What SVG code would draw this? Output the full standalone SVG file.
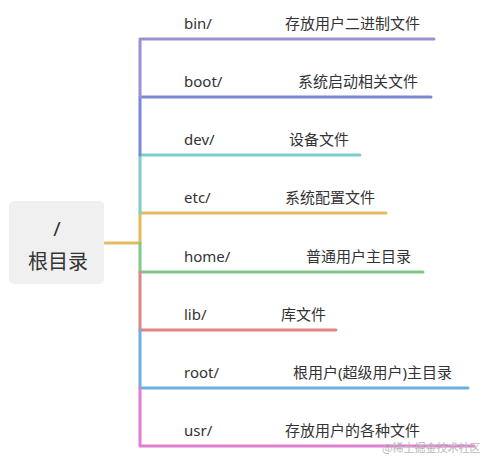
<svg xmlns="http://www.w3.org/2000/svg" width="486" height="466" viewBox="0 0 486 466">
<style>
.t{font-family:"Noto Sans","Noto Sans CJK SC",sans-serif;font-size:15px;fill:#333}
.r{font-family:"Noto Sans","Noto Sans CJK SC",sans-serif;font-size:20px;fill:#333;text-anchor:middle}
.c{fill:none;stroke-width:3;stroke-linecap:round;stroke-linejoin:round}
.wm{font-family:"Noto Sans CJK SC",sans-serif;font-size:11px;fill:#b8b8b8}
</style>
<rect width="486" height="466" fill="#fff"/>
<g id="connectors">
<path class="c" stroke="#e5bb5f" d="M105 243H140V213H386"/>
<path class="c" stroke="#7ecdc8" d="M140 213V155H360"/>
<path class="c" stroke="#7b88d4" d="M140 155V97H431"/>
<path class="c" stroke="#9b8fd6" d="M140 97V39H434"/>
<path class="c" stroke="#7dc88a" d="M140 243V272H423"/>
<path class="c" stroke="#e08585" d="M140 272V330H336"/>
<path class="c" stroke="#6db0e0" d="M140 330V388H468"/>
<path class="c" stroke="#e07fd0" d="M140 388V446H474"/>
</g>
<g id="root">
<rect x="9" y="201" width="95" height="83" rx="5" fill="#f0f0f0"/>
<text class="r" x="57" y="236">/</text>
<text class="r" x="58" y="269">根目录</text>
</g>
<g id="bin"><text class="t" x="184" y="29">bin/</text><text class="t" x="285" y="29">存放用户二进制文件</text></g>
<g id="boot"><text class="t" x="184" y="87">boot/</text><text class="t" x="298" y="87">系统启动相关文件</text></g>
<g id="dev"><text class="t" x="184" y="145">dev/</text><text class="t" x="289" y="145">设备文件</text></g>
<g id="etc"><text class="t" x="184" y="203">etc/</text><text class="t" x="285" y="203">系统配置文件</text></g>
<g id="home"><text class="t" x="184" y="262">home/</text><text class="t" x="306" y="262">普通用户主目录</text></g>
<g id="lib"><text class="t" x="184" y="320">lib/</text><text class="t" x="281" y="320">库文件</text></g>
<g id="rootdir"><text class="t" x="184" y="378">root/</text><text class="t" x="293" y="378">根用户(超级用户)主目录</text></g>
<g id="usr"><text class="t" x="184" y="436">usr/</text><text class="t" x="285" y="436">存放用户的各种文件</text></g>
<text class="wm" x="382" y="452">@稀土掘金技术社区</text>
</svg>
